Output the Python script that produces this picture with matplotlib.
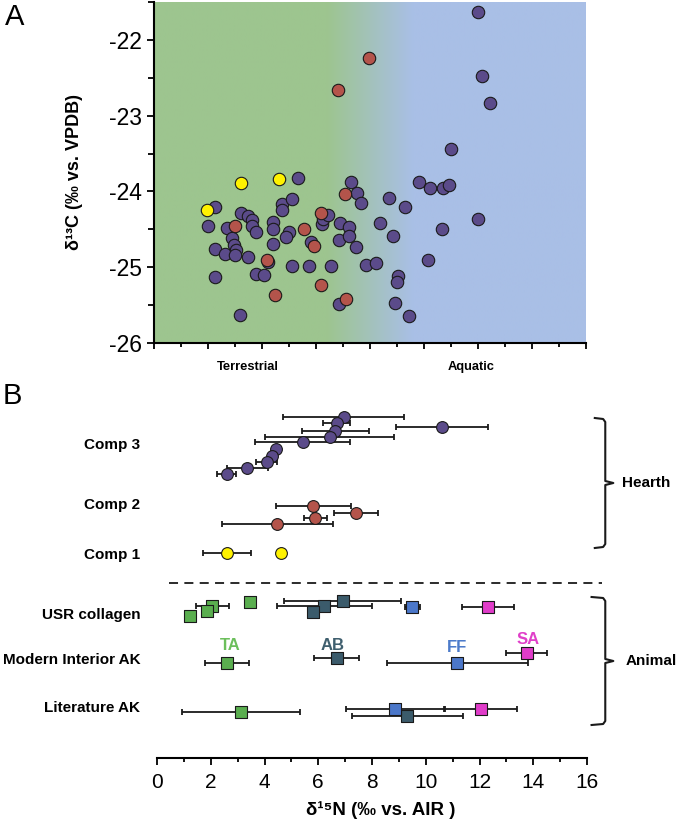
import numpy as np
import matplotlib
matplotlib.use('Agg')
import matplotlib.pyplot as plt
from matplotlib.ticker import MultipleLocator

plt.rcParams['font.family'] = ['Liberation Sans', 'DejaVu Sans']
plt.rcParams['axes.unicode_minus'] = False

# ---- Panel A: individual measurements (d15N, d13C)
comp3_n = [1.99, 2.26, 2.26, 2.26, 2.64, 2.69, 2.90, 2.98, 3.05, 3.01, 3.19, 3.22,
           3.48, 3.64, 3.62, 3.79, 3.48, 3.79, 4.09, 4.23, 4.42, 4.40, 4.40, 4.74,
           4.74, 4.99, 4.88, 5.12, 5.12, 5.35, 5.80, 5.74, 6.21, 6.27, 6.43, 6.56,
           6.90, 6.84, 6.85, 12.01, 12.14, 12.44, 11.00, 7.30, 7.53, 7.67, 9.81,
           10.22, 10.72, 10.93, 8.72, 9.30, 11.99, 10.65, 8.37, 7.22, 7.22, 7.48,
           8.86, 10.16, 7.85, 8.22, 9.05, 8.99, 8.91, 9.44]
comp3_c = [-24.46, -24.21, -24.76, -25.13, -24.83, -24.48, -24.62, -24.71, -24.77,
           -24.84, -25.63, -24.29, -24.33, -24.38, -24.45, -24.54, -24.86, -25.09,
           -25.10, -24.93, -24.40, -24.50, -24.70, -24.16, -24.25, -24.53, -24.60,
           -24.10, -24.99, -23.82, -24.67, -24.98, -24.43, -24.37, -24.31, -24.98,
           -24.42, -24.64, -25.49, -21.63, -22.48, -22.83, -23.44, -23.88, -24.02,
           -24.15, -23.87, -23.95, -23.96, -23.91, -24.09, -24.20, -24.37, -24.49,
           -24.42, -24.47, -24.59, -24.73, -24.59, -24.90, -24.97, -24.95, -25.11,
           -25.19, -25.47, -25.64]
comp2_n = [3.00, 4.17, 4.49, 5.57, 5.94, 6.17, 6.19, 6.82, 7.97, 7.09, 7.11]
comp2_c = [-24.46, -24.90, -25.37, -24.50, -24.72, -25.24, -24.29, -22.66, -22.24,
           -24.03, -25.42]
comp1_n = [1.95, 3.22, 4.62]
comp1_c = [-24.25, -23.89, -23.83]

# ---- Panel B: means and SD of d15N per group; lane = vertical position in the row stack
hearth_groups = {
    'comp3': dict(x=[6.94, 6.69, 10.61, 6.63, 6.42, 5.42, 4.43, 4.27, 4.08, 3.36, 2.59],
                  sd=[2.26, 0.50, 1.71, 1.24, 2.40, 1.76, 0, 0, 0.40, 0.76, 0.36],
                  lane=[340.7, 334.7, 330.7, 327.3, 321.3, 315.7, 309, 302.3, 296.3, 290.3, 284],
                  color='#5b4b8a'),
    'comp2': dict(x=[5.82, 7.41, 5.89, 4.48],
                  sd=[1.39, 0.81, 0.42, 2.07],
                  lane=[252.3, 244.7, 240, 233.7],
                  color='#b4544b'),
    'comp1': dict(x=[2.59, 4.60],
                  sd=[0.89, 0],
                  lane=[205, 205],
                  color='#fff200'),
}
animal_groups = {
    'TA': dict(x=[3.46, 2.06, 1.87, 1.23, 2.59, 3.12],
               sd=[0, 0.61, 0, 0, 0.82, 2.19],
               lane=[156.3, 152, 147.3, 142.3, 95.3, 46.3],
               color='#5aae4f', label_pos=(2.72, 113)),
    'AB': dict(x=[6.91, 6.22, 5.82, 6.69, 9.32],
               sd=[2.17, 1.77, 0, 0.83, 2.07],
               lane=[157, 152, 146.3, 99.7, 42],
               color='#3b5b6b', label_pos=(6.55, 113)),
    'FF': dict(x=[9.49, 11.18, 8.87],
               sd=[0.28, 2.61, 1.84],
               lane=[151.3, 95.3, 48.7],
               color='#4b77c9', label_pos=(11.16, 110)),
    'SA': dict(x=[12.32, 13.76, 12.05],
               sd=[0.96, 0.77, 1.36],
               lane=[151.3, 104.7, 48.7],
               color='#e03cc9', label_pos=(13.8, 118)),
}
row_labels = ['Comp 3', 'Comp 2', 'Comp 1', 'USR collagen', 'Modern Interior AK', 'Literature AK']
row_lanes = [314, 254, 205, 145, 100, 52]
label_colors = {'TA': '#6cbf5c', 'AB': '#3f5f6e', 'FF': '#4c7bca', 'SA': '#e040c9'}

fig = plt.figure(figsize=(6.77, 8.31), dpi=100)

# ================= Panel A =================
axA = fig.add_axes([154 / 677, 1 - 343 / 831, 432 / 677, 341 / 831])
green = np.array([157, 197, 143]) / 255
blue = np.array([169, 191, 230]) / 255
xs = np.linspace(0, 16, 400)
t = np.clip((xs - 6.4) / 3.2, 0, 1)[:, None]
grad = (green * (1 - t) + blue * t)[None, :, :]
axA.imshow(grad, extent=[0, 16, -26, -21.5], aspect='auto', zorder=0, interpolation='bilinear')

kw = dict(s=80, edgecolors='#1a1a1a', linewidths=0.8, zorder=3)
axA.scatter(comp3_n, comp3_c, c='#5b4b8a', **kw)
axA.scatter(comp2_n, comp2_c, c='#b4544b', **kw)
axA.scatter(comp1_n, comp1_c, c='#fff200', **kw)

axA.set_xlim(0, 16)
axA.set_ylim(-26, -21.5)
for s in ['top', 'right']:
    axA.spines[s].set_visible(False)
for s in ['left', 'bottom']:
    axA.spines[s].set_linewidth(1.5)
axA.yaxis.set_major_locator(MultipleLocator(1))
axA.yaxis.set_minor_locator(MultipleLocator(0.5))
axA.xaxis.set_major_locator(MultipleLocator(2))
axA.xaxis.set_minor_locator(MultipleLocator(1))
axA.tick_params(axis='y', which='major', length=5, width=1.3, labelsize=16.5, pad=4)
axA.tick_params(axis='y', which='minor', length=4, width=1.3)
axA.tick_params(axis='x', which='major', length=4.5, width=1.3, labelbottom=False)
axA.tick_params(axis='x', which='minor', length=3, width=1.3)
axA.set_ylabel('δ¹³C (‰ vs. VPDB)', fontsize=13, fontweight='bold')
axA.yaxis.set_label_coords(-0.165, 0.5)
axA.text(3.49, -0.07, 'Terrestrial', transform=axA.get_xaxis_transform(),
         ha='center', va='center', fontsize=9.3, fontweight='bold')
axA.text(11.73, -0.07, 'Aquatic', transform=axA.get_xaxis_transform(),
         ha='center', va='center', fontsize=9.3, fontweight='bold')
fig.text(15 / 677, 1 - 17 / 831, 'A', fontsize=21, ha='center', va='center')

# ================= Panel B =================
axB = fig.add_axes([157 / 677, 1 - 758 / 831, 430 / 677, 363 / 831])
ekw = dict(fmt='none', ecolor='#1a1a1a', elinewidth=1.3, capsize=2.2, capthick=1.3, zorder=2)
for g in hearth_groups.values():
    axB.errorbar(g['x'], g['lane'], xerr=g['sd'], **ekw)
    axB.scatter(g['x'], g['lane'], s=72, c=g['color'], edgecolors='#1a1a1a',
                linewidths=0.8, zorder=3)
for name, g in animal_groups.items():
    axB.errorbar(g['x'], g['lane'], xerr=g['sd'], **ekw)
    axB.scatter(g['x'], g['lane'], s=78, marker='s', c=g['color'], edgecolors='#1a1a1a',
                linewidths=0.8, zorder=3)
    lx, ly = g['label_pos']
    axB.text(lx, ly, name, color=label_colors[name], fontsize=12, fontweight='bold',
             ha='center', va='center')

axB.plot([0.45, 16.57], [175, 175], color='#1a1a1a', lw=1.3, ls=(0, (5, 3.5)), clip_on=False)


def brace(ax, ytop, ymid, ybot, x0, x1, x2):
    xs_ = [x0, x1 - 0.08, x1, x1, x2, x1, x1, x1 - 0.08, x0]
    ys_ = [ytop + 1, ytop, ytop - 3, ymid + 2, ymid, ymid - 2, ybot + 3, ybot, ybot - 1]
    ax.plot(xs_, ys_, color='#1a1a1a', lw=1.5, clip_on=False, solid_joinstyle='round')


brace(axB, 339, 275, 211, 16.29, 16.68, 16.98)
brace(axB, 160, 97, 34, 16.17, 16.68, 16.98)
axB.text(17.31, 275, 'Hearth', fontsize=11, fontweight='bold', ha='left', va='center')
axB.text(17.42, 97, 'Animal', fontsize=11, fontweight='bold', ha='left', va='center')

axB.set_xlim(0, 16)
axB.set_ylim(0, 363)
axB.set_yticks(row_lanes)
axB.set_yticklabels(row_labels, fontsize=11, fontweight='bold')
axB.tick_params(axis='y', length=0, pad=12)
for s in ['top', 'right', 'left']:
    axB.spines[s].set_visible(False)
axB.spines['bottom'].set_linewidth(1.5)
axB.xaxis.set_major_locator(MultipleLocator(2))
axB.xaxis.set_minor_locator(MultipleLocator(1))
axB.tick_params(axis='x', which='major', length=5, width=1.3, labelsize=15, pad=6)
axB.tick_params(axis='x', which='minor', length=3, width=1.3)
axB.set_xlabel('δ¹⁵N (‰ vs. AIR )', fontsize=13.5, fontweight='bold')
axB.xaxis.set_label_coords(0.52, -0.12)
fig.text(12 / 677, 1 - 396 / 831, 'B', fontsize=21, ha='center', va='center')

fig.savefig('out.png', dpi=100)
